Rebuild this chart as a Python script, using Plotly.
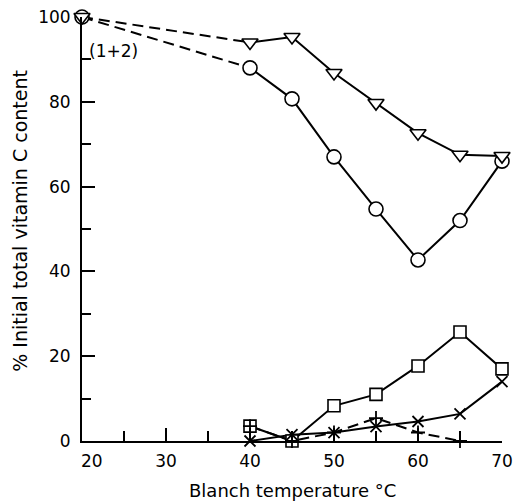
import plotly.graph_objects as go

# Blanch temperature (°C) and % of initial total vitamin C
temp_main = [20, 40, 45, 50, 55, 60, 65, 70]
series_1plus2 = [100, 88, 80.7, 67, 54.7, 42.7, 52, 66]      # circles
series_tri = [100, 94, 95.3, 86.8, 79.7, 72.6, 67.5, 67.2]  # triangles

temp_low = [40, 45, 50, 55, 60, 65, 70]
series_square = [3.5, 0, 8.3, 11, 17.7, 25.7, 17]
series_x = [0, 1.5, 2, 3.4, 4.6, 6.4, 14]

temp_plus = [40, 45, 50, 55, 60, 65]
series_plus = [3.5, 0, 2, 5.4, 2, 0]

x_ticks = [30, 40, 50, 60, 70]
x_minor = [25, 35, 45, 55, 65]
y_ticks = [0, 20, 40, 60, 80, 100]
y_minor = [10, 30, 50, 70, 90]

FONT = "DejaVu Sans"
INK = "black"
DASH = "11px,6px"
LW = 2

fig = go.Figure()


def line(x, y, dash="solid"):
    fig.add_trace(go.Scatter(x=x, y=y, mode="lines",
                             line=dict(color=INK, width=LW, dash=dash),
                             hoverinfo="skip", showlegend=False, cliponaxis=False))


def marks(x, y, symbol, size, fill="white", width=1.6):
    fig.add_trace(go.Scatter(x=x, y=y, mode="markers",
                             marker=dict(symbol=symbol, size=size, color=fill,
                                         line=dict(color=INK, width=width)),
                             showlegend=False, cliponaxis=False))


# connecting lines: dashed up to 40 °C, solid afterwards
line(temp_main[:2], series_1plus2[:2], DASH)
line(temp_main[1:], series_1plus2[1:])
line(temp_main[:2], series_tri[:2], DASH)
line(temp_main[1:], series_tri[1:])
line(temp_low, series_square)
line(temp_low, series_x)
line(temp_plus, series_plus, DASH)

# markers drawn above all lines
marks(temp_main, series_1plus2, "circle", 14)
marks(temp_main, series_tri, "triangle-down", 14)
marks(temp_low, series_square, "square", 12)
marks(temp_low, series_x, "x-thin-open", 11, INK, 1.8)
marks(temp_plus, series_plus, "cross-thin-open", 10, INK, 1.8)

annotations = [
    dict(x=20.6, y=92, xref="x", yref="y", text="(1+2)", showarrow=False,
         xanchor="left", yanchor="middle", font=dict(family=FONT, size=17, color=INK)),
    dict(x=0.5, y=-0.116, xref="paper", yref="paper", text="Blanch temperature °C",
         showarrow=False, xanchor="center", yanchor="middle",
         font=dict(family=FONT, size=18, color=INK)),
    dict(x=-0.148, y=0.519, xref="paper", yref="paper",
         text="% Initial total vitamin C content", textangle=-90, showarrow=False,
         xanchor="center", yanchor="middle", font=dict(family=FONT, size=19, color=INK)),
    dict(x=20, y=0, xref="x", yref="y", text="20", showarrow=False, xshift=10,
         yshift=-20, xanchor="center", yanchor="middle",
         font=dict(family=FONT, size=17, color=INK)),
]

fig.update_layout(
    width=513, height=502,
    margin=dict(l=82, r=11, t=17, b=61, autoexpand=False),
    paper_bgcolor="white", plot_bgcolor="white",
    font=dict(family=FONT, size=17, color=INK),
    annotations=annotations,
    xaxis=dict(range=[20, 70], tickvals=x_ticks, ticks="inside", ticklen=13,
               tickwidth=1.6, tickcolor=INK, showline=True, linewidth=2, linecolor=INK,
               showgrid=False, zeroline=False, ticklabelstandoff=4,
               minor=dict(tickvals=x_minor, ticks="inside", ticklen=10,
                          tickwidth=1.6, tickcolor=INK, showgrid=False)),
    yaxis=dict(range=[0, 100], tickvals=y_ticks, ticks="inside", ticklen=13,
               tickwidth=1.6, tickcolor=INK, showline=True, linewidth=2, linecolor=INK,
               showgrid=False, zeroline=False, ticklabelstandoff=6,
               minor=dict(tickvals=y_minor, ticks="inside", ticklen=9,
                          tickwidth=1.6, tickcolor=INK, showgrid=False)),
)

fig.write_html("out.html")
